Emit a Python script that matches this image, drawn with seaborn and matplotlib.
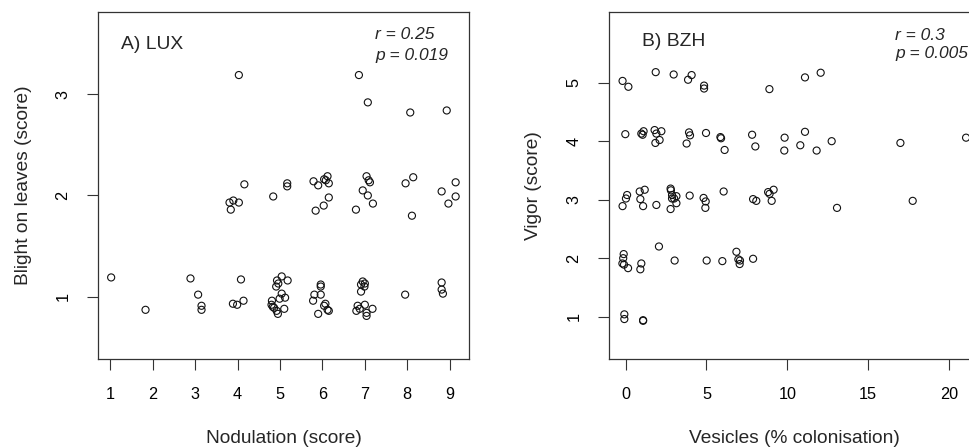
import matplotlib
matplotlib.use("Agg")
import matplotlib.pyplot as plt
import seaborn as sns
import pandas as pd

# ---- Data ----
lux_nodulation = [4.03, 6.86, 7.07, 8.07, 8.93,
                  4.16, 3.81, 3.90, 4.03, 3.84, 4.84, 5.17, 5.17, 5.79, 5.90, 6.04, 6.12, 6.15, 6.08,
                  5.84, 6.03, 6.15, 7.04, 7.12, 7.09, 6.95, 7.07, 6.79, 7.19, 7.96, 8.14, 8.11, 8.81,
                  9.14, 9.14, 8.97,
                  1.02, 1.83, 2.89, 3.07, 3.15, 3.15, 4.08, 4.14, 3.89, 3.99, 4.81, 4.93, 5.04, 5.18,
                  4.96, 4.91, 5.04, 5.12, 4.99, 4.80, 4.86, 5.10, 4.92, 4.95, 4.83, 5.96, 5.96, 5.81,
                  5.96, 5.78, 6.07, 6.04, 6.15, 6.12, 5.90, 6.95, 6.91, 7.00, 6.99, 6.91, 6.83, 6.88,
                  6.80, 7.00, 7.18, 7.04, 7.04, 7.95, 8.81, 8.81, 8.84]
lux_blight = [3.19, 3.19, 2.92, 2.82, 2.84,
              2.11, 1.93, 1.95, 1.93, 1.86, 1.99, 2.12, 2.09, 2.14, 2.10, 2.16, 2.19, 2.12, 2.15,
              1.85, 1.90, 1.98, 2.19, 2.13, 2.15, 2.05, 2.00, 1.86, 1.92, 2.12, 2.18, 1.80, 2.04,
              2.13, 1.99, 1.92,
              1.19, 0.87, 1.18, 1.02, 0.91, 0.87, 1.17, 0.96, 0.93, 0.92, 0.96, 1.16, 1.20, 1.16,
              1.13, 1.10, 1.03, 0.99, 0.98, 0.92, 0.89, 0.88, 0.86, 0.83, 0.90, 1.12, 1.10, 1.02,
              1.02, 0.96, 0.93, 0.91, 0.86, 0.87, 0.83, 1.15, 1.12, 1.13, 1.10, 1.05, 0.91, 0.88,
              0.86, 0.92, 0.88, 0.84, 0.81, 1.02, 1.14, 1.07, 1.03]

bzh_vesicles = [-0.19, 0.17, 1.86, 2.97, 3.86, 4.08, 4.85, 4.85, 8.89, 11.09, 12.06,
                -0.02, 0.97, 1.11, 1.05, 1.79, 2.21, 1.84, 2.10, 1.90, 3.92, 3.98, 3.77, 4.97, 5.86,
                5.90, 6.12, 7.82, 8.02, 9.83, 9.81, 10.80, 11.09, 11.81, 12.74, 16.99, 21.05,
                0.09, 0.02, -0.19, 0.87, 1.18, 0.91, 1.08, 1.90, 2.78, 2.80, 2.87, 3.14, 2.87, 3.00,
                3.14, 2.78, 3.96, 4.82, 4.95, 4.93, 6.06, 7.88, 8.08, 8.81, 8.90, 9.15, 9.03, 13.07,
                17.75,
                -0.12, -0.15, -0.20, -0.10, 0.15, 0.97, 0.91, 2.06, 3.03, 5.01, 5.98, 6.85, 6.97,
                7.07, 7.05, 7.88,
                -0.08, -0.08, 1.08, 1.08]
bzh_vigor = [5.03, 4.93, 5.18, 5.14, 5.05, 5.13, 4.95, 4.90, 4.89, 5.09, 5.17,
             4.12, 4.13, 4.17, 4.11, 4.19, 4.17, 3.97, 4.02, 4.13, 4.15, 4.10, 3.96, 4.14, 4.07,
             4.05, 3.85, 4.11, 3.91, 4.06, 3.84, 3.93, 4.16, 3.84, 4.00, 3.97, 4.06,
             3.08, 3.02, 2.89, 3.14, 3.17, 3.01, 2.89, 2.91, 3.19, 3.16, 3.08, 3.06, 3.02, 3.02,
             2.94, 2.84, 3.07, 3.03, 2.97, 2.86, 3.14, 3.01, 2.98, 3.13, 3.10, 3.17, 2.98, 2.86,
             2.98,
             2.07, 2.00, 1.91, 1.89, 1.83, 1.91, 1.81, 2.20, 1.96, 1.96, 1.95, 2.11, 1.98,
             1.96, 1.90, 1.99,
             1.04, 0.96, 0.94, 0.93]

lux_xticks = [1, 2, 3, 4, 5, 6, 7, 8, 9]
lux_yticks = [1, 2, 3]
bzh_xticks = [0, 5, 10, 15, 20]
bzh_yticks = [1, 2, 3, 4, 5]

panel_titles = ["A) LUX", "B) BZH"]
panel_r = ["r = 0.25", "r = 0.3"]
panel_p = ["p = 0.019", "p = 0.005"]

# ---- Styling ----
sns.set_style("ticks")
plt.rcParams['font.family'] = ['Liberation Sans', 'DejaVu Sans']

fig = plt.figure(figsize=(9.69, 4.48), dpi=100)
W, H = 969, 448

def make_ax(left_px):
    return fig.add_axes([left_px / W, 1 - 359 / H, 371 / W, 347 / H])

axA = make_ax(98.3)
axB = make_ax(609.3)

dfA = pd.DataFrame({"Nodulation": lux_nodulation, "Blight": lux_blight})
dfB = pd.DataFrame({"Vesicles": bzh_vesicles, "Vigor": bzh_vigor})

sc_kw = dict(marker="o", s=26, facecolor="none", edgecolor="#111111", linewidth=0.8, legend=False)
sns.scatterplot(data=dfA, x="Nodulation", y="Blight", ax=axA, **sc_kw)
sns.scatterplot(data=dfB, x="Vesicles", y="Vigor", ax=axB, **sc_kw)

axA.set_xlim(0.717, 9.462)
axA.set_ylim(0.384, 3.813)
axB.set_xlim(-1.01, 21.93)
axB.set_ylim(0.277, 6.208)

for ax, xt, yt in [(axA, lux_xticks, lux_yticks), (axB, bzh_xticks, bzh_yticks)]:
    ax.set_xticks(xt)
    ax.set_yticks(yt)
    ax.set_xticklabels([str(v) for v in xt])
    ax.set_yticklabels([str(v) for v in yt], rotation=90, va="center")
    ax.tick_params(axis="both", direction="out", length=8, width=0.8, colors="#333333",
                   labelcolor="black", labelsize=11.7, pad=12)
    for sp in ax.spines.values():
        sp.set_visible(True)
        sp.set_linewidth(0.9)
        sp.set_color("#333333")

axA.set_xlabel("Nodulation (score)", fontsize=13.8)
axA.set_ylabel("Blight on leaves (score)", fontsize=13.8)
axB.set_xlabel("Vesicles (% colonisation)", fontsize=13.8)
axB.set_ylabel("Vigor (score)", fontsize=13.8)

axA.xaxis.set_label_coords(0.5, -0.205)
axA.yaxis.set_label_coords(-0.179, 0.5)
# panel B: center x-label on the (cropped) axes as in the reference
axB.xaxis.set_label_coords(0.5, -0.205)
axB.yaxis.set_label_coords(-0.181, 0.5)

# Panel annotations
axA.text(0.061, 0.905, panel_titles[0], transform=axA.transAxes, fontsize=13.9, ha="left", va="center")
axA.text(0.746, 0.934, panel_r[0], transform=axA.transAxes, fontsize=12.5, style="italic", ha="left", va="center")
axA.text(0.746, 0.876, panel_p[0], transform=axA.transAxes, fontsize=12.5, style="italic", ha="left", va="center")

axB.text(0.087, 0.914, panel_titles[1], transform=axB.transAxes, fontsize=13.9, ha="left", va="center")
axB.text(0.770, 0.931, panel_r[1], transform=axB.transAxes, fontsize=12.5, style="italic", ha="left", va="center")
axB.text(0.770, 0.881, panel_p[1], transform=axB.transAxes, fontsize=12.5, style="italic", ha="left", va="center")

fig.savefig("out.png", dpi=100)
